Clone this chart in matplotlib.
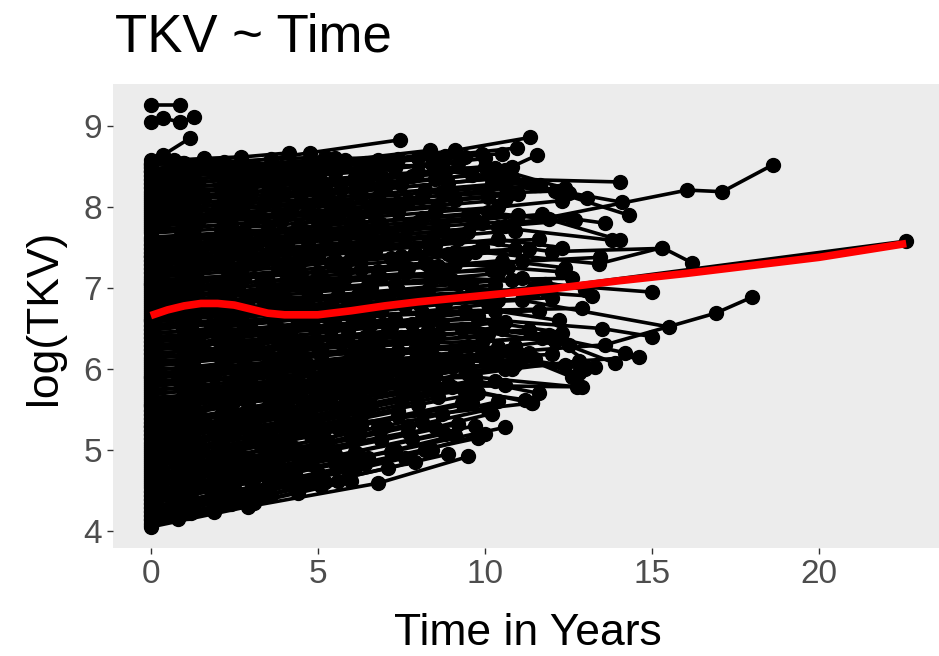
import matplotlib
matplotlib.use('Agg')
import matplotlib.pyplot as plt

# each subject: (time in years, log(TKV))
band_low = [
    ([0, 2.9, 6.8, 9.5], [4.05, 4.3, 4.59, 4.92]),
    ([0, 1.2, 3.0, 5.1], [4.1, 4.22, 4.35, 4.55]),
    ([0, 2.1, 4.3, 7.9], [4.15, 4.32, 4.52, 4.85]),
    ([0, 3.4, 5.6], [4.2, 4.45, 4.62]),
    ([0, 1.0, 2.2, 4.0, 6.1, 8.4], [4.25, 4.33, 4.42, 4.6, 4.78, 5.0]),
    ([0, 2.5, 5.0, 9.8], [4.3, 4.5, 4.72, 5.15]),
    ([0, 1.9, 3.8, 6.5], [4.35, 4.5, 4.68, 4.9]),
    ([0, 3.1, 7.2, 10.6], [4.4, 4.65, 4.98, 5.28]),
    ([0, 1.5, 4.6, 8.8], [4.45, 4.58, 4.85, 5.2]),
    ([0, 2.8, 5.5], [4.5, 4.72, 4.95]),
    ([0, 1.1, 3.6, 6.9, 9.2], [4.55, 4.65, 4.85, 5.12, 5.32]),
    ([0, 2.3, 4.9, 7.7], [4.6, 4.78, 5.0, 5.22]),
    ([0, 3.0, 6.2, 10.1], [4.65, 4.88, 5.15, 5.5]),
    ([0, 1.7, 5.3, 8.1], [4.7, 4.82, 5.1, 5.35]),
    ([0, 2.6, 4.1, 7.0], [4.75, 4.95, 5.05, 5.3]),
    ([0, 1.3, 3.3, 6.0, 9.6], [4.8, 4.9, 5.05, 5.28, 5.58]),
    ([0, 2.0, 5.8, 11.4], [4.85, 5.0, 5.32, 5.58]),
    ([0, 3.5, 7.4], [4.9, 5.15, 5.48]),
    ([0, 1.4, 4.4, 8.6], [4.95, 5.05, 5.3, 5.65]),
    ([0, 2.2, 6.6, 10.3], [5.0, 5.18, 5.55, 5.85]),
    ([0, 1.0, 3.9, 5.7, 9.0], [5.05, 5.12, 5.35, 5.5, 5.78]),
    ([0, 2.7, 6.3], [5.1, 5.3, 5.6]),
    ([0, 1.8, 4.8, 8.3, 12.9], [5.15, 5.28, 5.52, 5.8, 5.78]),
    ([0, 3.2, 7.5, 10.9], [5.2, 5.45, 5.8, 6.05]),
    ([0, 1.6, 5.2, 9.4], [5.25, 5.38, 5.65, 6.0]),
    ([0, 2.4, 4.5, 7.9], [5.3, 5.48, 5.65, 5.92]),
    ([0, 1.2, 3.7, 6.8, 11.0], [5.35, 5.45, 5.65, 5.9, 6.2]),
    ([0, 2.9, 5.9, 9.9], [5.4, 5.62, 5.85, 6.18]),
    ([0, 0.9, 4.2, 8.0], [5.45, 5.52, 5.78, 6.08]),
    ([0, 3.0, 6.9, 10.8, 12.8, 14.6], [5.3, 5.5, 5.78, 6.0, 6.1, 6.15]),
]

band_low_b = [
    ([0, 0.8, 1.9, 3.1, 4.4, 6.0], [4.08, 4.15, 4.24, 4.35, 4.47, 4.62]),
    ([0, 1.1, 2.4, 3.6, 5.2, 7.1, 8.9], [4.13, 4.22, 4.33, 4.45, 4.6, 4.78, 4.95]),
    ([0, 0.9, 2.0, 3.3, 4.7], [4.18, 4.26, 4.36, 4.48, 4.6]),
    ([0, 1.3, 2.7, 4.1, 5.9, 7.6], [4.23, 4.33, 4.46, 4.58, 4.74, 4.9]),
    ([0, 1.0, 2.2, 3.5, 5.0, 6.4, 8.2, 10.0], [4.28, 4.36, 4.46, 4.57, 4.7, 4.83, 5.0, 5.2]),
    ([0, 0.7, 1.8, 3.0, 4.3, 5.8], [4.33, 4.4, 4.5, 4.6, 4.72, 4.86]),
    ([0, 1.2, 2.5, 3.9, 5.5, 7.3, 9.1], [4.38, 4.47, 4.58, 4.7, 4.84, 5.0, 5.18]),
    ([0, 1.0, 2.1, 3.4, 4.8, 6.2], [4.43, 4.51, 4.6, 4.71, 4.83, 4.95]),
    ([0, 1.4, 2.9, 4.5, 6.1, 7.8, 9.7], [4.48, 4.59, 4.71, 4.84, 4.98, 5.13, 5.3]),
    ([0, 0.8, 1.9, 3.2, 4.6], [4.53, 4.6, 4.69, 4.8, 4.91]),
    ([0, 1.1, 2.4, 3.8, 5.3, 6.9, 8.5, 10.2], [4.58, 4.67, 4.77, 4.88, 5.0, 5.14, 5.28, 5.45]),
    ([0, 0.9, 2.2, 3.6, 5.1], [4.63, 4.7, 4.8, 4.92, 5.04]),
    ([0, 1.3, 2.8, 4.3, 6.0, 7.7], [4.68, 4.78, 4.9, 5.02, 5.16, 5.3]),
    ([0, 1.0, 2.3, 3.7, 5.2, 6.8, 8.7, 10.4], [4.73, 4.81, 4.91, 5.02, 5.14, 5.28, 5.44, 5.6]),
    ([0, 0.8, 2.0, 3.3, 4.8, 6.3], [4.78, 4.85, 4.94, 5.05, 5.17, 5.3]),
    ([0, 1.2, 2.6, 4.0, 5.6, 7.4, 9.3], [4.83, 4.92, 5.03, 5.14, 5.27, 5.42, 5.58]),
    ([0, 1.0, 2.1, 3.5, 5.0], [4.88, 4.96, 5.05, 5.16, 5.28]),
    ([0, 1.5, 3.0, 4.6, 6.3, 8.0, 9.8, 11.2], [4.93, 5.04, 5.16, 5.28, 5.42, 5.56, 5.7, 5.62]),
    ([0, 0.9, 2.0, 3.4, 4.9, 6.5], [4.98, 5.05, 5.14, 5.25, 5.37, 5.5]),
    ([0, 1.1, 2.5, 4.0, 5.7, 7.5, 9.4], [5.03, 5.11, 5.22, 5.33, 5.46, 5.6, 5.75]),
    ([0, 0.8, 1.9, 3.1, 4.5, 6.0], [5.08, 5.14, 5.23, 5.33, 5.44, 5.56]),
    ([0, 1.3, 2.7, 4.3, 6.0, 7.8, 9.7, 11.6], [5.13, 5.22, 5.33, 5.45, 5.58, 5.72, 5.86, 5.7]),
    ([0, 1.0, 2.3, 3.8, 5.4], [5.18, 5.25, 5.35, 5.46, 5.58]),
    ([0, 1.2, 2.6, 4.1, 5.8, 7.6, 9.5], [5.23, 5.31, 5.41, 5.52, 5.65, 5.79, 5.94]),
    ([0, 0.9, 2.1, 3.5, 5.0, 6.7, 8.5], [5.28, 5.34, 5.43, 5.53, 5.65, 5.78, 5.92]),
    ([0, 1.4, 2.9, 4.5, 6.2, 8.1, 10.1], [5.33, 5.42, 5.52, 5.63, 5.76, 5.9, 6.05]),
    ([0, 1.0, 2.2, 3.6, 5.1, 6.8], [5.38, 5.45, 5.53, 5.63, 5.74, 5.86]),
    ([0, 1.1, 2.5, 4.0, 5.7, 7.5, 9.4, 11.3], [5.43, 5.5, 5.6, 5.7, 5.82, 5.95, 6.08, 6.2]),
    ([0, 0.8, 2.0, 3.3, 4.8], [5.48, 5.54, 5.62, 5.71, 5.82]),
]

band_mid_low = [
    ([0, 2.2, 5.4, 8.7, 11.9, 14.2], [6.4, 6.45, 6.5, 6.56, 6.4, 6.2]),
    ([0, 1.0, 3.8, 7.2, 10.6], [6.35, 6.4, 6.46, 6.52, 6.58]),
    ([0, 2.5, 5.9, 9.3, 12.5], [6.3, 6.35, 6.42, 6.5, 6.3]),
    ([0, 1.5, 4.5, 7.9, 11.3, 13.9], [6.25, 6.3, 6.36, 6.42, 6.48, 6.07]),
    ([0, 3.2, 6.6, 10.0], [6.2, 6.26, 6.32, 6.4]),
    ([0, 1.7, 5.0, 8.4, 11.7], [6.15, 6.2, 6.26, 6.32, 6.38]),
    ([0, 2.8, 6.1, 9.5, 12.8], [6.1, 6.15, 6.22, 6.28, 5.95]),
    ([0, 1.2, 4.0, 7.4, 10.9], [6.05, 6.1, 6.15, 6.22, 6.28]),
    ([0, 3.5, 6.9, 10.3, 13.0], [6.0, 6.06, 6.12, 6.18, 6.0]),
    ([0, 2.0, 5.2, 8.6, 12.0], [5.95, 6.0, 6.06, 6.12, 6.18]),
    ([0, 1.4, 4.4, 7.7, 11.1], [5.9, 5.95, 6.0, 6.06, 6.12]),
    ([0, 2.6, 5.7, 9.0, 12.4], [5.85, 5.9, 5.95, 6.02, 6.05]),
    ([0, 1.1, 3.7, 7.0, 10.6], [5.8, 5.85, 5.9, 5.95, 6.0]),
    ([0, 3.0, 6.3, 9.7, 12.75], [5.75, 5.8, 5.86, 5.9, 5.78]),
    ([0, 1.9, 4.9, 8.2, 11.4], [5.7, 5.75, 5.8, 5.86, 5.58]),
    ([0, 2.4, 5.5, 8.9], [5.65, 5.7, 5.76, 5.82]),
    ([0, 1.3, 4.2, 7.5, 10.6], [5.6, 5.65, 5.7, 5.76, 5.8]),
    ([0, 2.9, 6.0, 9.4], [5.55, 5.6, 5.66, 5.72]),
    ([0, 2.1, 5.4, 9.1, 12.1], [5.5, 5.65, 5.92, 6.2, 6.35]),
    ([0, 1.5, 3.6, 7.1], [5.55, 5.66, 5.82, 6.1]),
]

band_mid_low_b = [
    ([0, 1.2, 2.6, 4.1, 5.8, 7.6, 9.5, 11.5], [5.53, 5.59, 5.66, 5.74, 5.83, 5.93, 6.03, 6.12]),
    ([0, 0.9, 2.1, 3.5, 5.0, 6.7], [5.58, 5.63, 5.69, 5.76, 5.84, 5.93]),
    ([0, 1.3, 2.8, 4.4, 6.1, 8.0, 10.0], [5.63, 5.69, 5.76, 5.84, 5.93, 6.03, 6.13]),
    ([0, 1.0, 2.3, 3.7, 5.3, 7.0, 8.8, 10.7, 12.6], [5.68, 5.73, 5.79, 5.86, 5.94, 6.03, 6.12, 6.22, 5.9]),
    ([0, 1.1, 2.4, 3.9, 5.5, 7.2], [5.73, 5.78, 5.84, 5.91, 5.99, 6.07]),
    ([0, 1.4, 3.0, 4.7, 6.5, 8.4, 10.4], [5.78, 5.84, 5.91, 5.99, 6.08, 6.17, 6.27]),
    ([0, 0.8, 1.9, 3.2, 4.7, 6.3, 8.0], [5.83, 5.87, 5.92, 5.98, 6.05, 6.13, 6.21]),
    ([0, 1.2, 2.7, 4.3, 6.0, 7.9, 9.9, 11.9, 13.3], [5.88, 5.93, 6.0, 6.07, 6.15, 6.24, 6.33, 6.42, 6.02]),
    ([0, 1.0, 2.2, 3.6, 5.1, 6.8], [5.93, 5.97, 6.03, 6.09, 6.16, 6.24]),
    ([0, 1.3, 2.8, 4.4, 6.2, 8.1, 10.1], [5.98, 6.03, 6.1, 6.17, 6.25, 6.34, 6.43]),
    ([0, 0.9, 2.1, 3.5, 5.1, 6.8, 8.6, 10.5], [6.03, 6.07, 6.12, 6.18, 6.25, 6.33, 6.41, 6.5]),
    ([0, 1.1, 2.5, 4.0, 5.7, 7.5], [6.08, 6.12, 6.18, 6.25, 6.32, 6.4]),
    ([0, 1.4, 2.9, 4.6, 6.4, 8.3, 10.3, 12.3], [6.13, 6.18, 6.25, 6.32, 6.4, 6.48, 6.57, 6.45]),
    ([0, 1.0, 2.3, 3.8, 5.4, 7.1], [6.18, 6.22, 6.27, 6.33, 6.4, 6.47]),
    ([0, 1.2, 2.6, 4.2, 5.9, 7.8, 9.8], [6.23, 6.28, 6.34, 6.41, 6.48, 6.56, 6.65]),
    ([0, 0.8, 2.0, 3.4, 4.9, 6.6, 8.4, 10.3, 12.2], [6.28, 6.31, 6.36, 6.42, 6.49, 6.56, 6.64, 6.72, 6.6]),
    ([0, 1.1, 2.4, 3.9, 5.5, 7.3], [6.33, 6.37, 6.42, 6.48, 6.55, 6.62]),
    ([0, 1.3, 2.8, 4.4, 6.2, 8.1, 10.1], [6.38, 6.43, 6.49, 6.56, 6.63, 6.71, 6.8]),
    ([0, 1.0, 2.2, 3.7, 5.2, 6.9, 8.7], [6.43, 6.47, 6.52, 6.58, 6.65, 6.72, 6.8]),
    ([0, 1.2, 2.7, 4.3, 6.1, 8.0, 10.0, 11.8], [6.48, 6.53, 6.59, 6.66, 6.73, 6.81, 6.9, 6.98]),
]

band_mid = [
    ([0, 2.6, 5.8, 9.1, 12.3], [7.1, 7.15, 7.22, 7.3, 7.2]),
    ([0, 1.4, 4.3, 7.7, 10.5], [7.05, 7.1, 7.18, 7.25, 7.3]),
    ([0, 3.3, 6.8, 10.2], [7.0, 7.08, 7.15, 7.22]),
    ([0, 1.9, 5.1, 8.5, 11.8, 15.0], [6.95, 7.0, 7.08, 7.15, 7.05, 6.95]),
    ([0, 2.4, 5.6, 9.0, 12.6], [6.9, 6.95, 7.02, 7.1, 7.12]),
    ([0, 1.1, 3.9, 7.3, 10.8], [6.85, 6.9, 6.98, 7.05, 7.1]),
    ([0, 2.9, 6.2, 9.6, 13.2], [6.8, 6.86, 6.92, 7.0, 6.9]),
    ([0, 1.6, 4.7, 8.2, 11.4], [6.75, 6.8, 6.86, 6.92, 6.98]),
    ([0, 3.6, 7.0, 10.4], [6.7, 6.75, 6.8, 6.85]),
    ([0, 2.1, 5.3, 8.8, 12.0], [6.65, 6.7, 6.76, 6.82, 6.88]),
    ([0, 1.3, 4.1, 7.6, 11.1, 15.5], [6.6, 6.64, 6.7, 6.78, 6.85, 6.52]),
    ([0, 2.7, 6.0, 9.4, 12.9], [6.55, 6.6, 6.66, 6.72, 6.75]),
    ([0, 1.8, 4.8, 8.1, 11.6], [6.5, 6.55, 6.62, 6.68, 6.72]),
    ([0, 3.0, 6.5, 9.8, 13.5, 15.0], [6.45, 6.5, 6.55, 6.62, 6.5, 6.4]),
]

band_mid_b = [
    ([0, 0.9, 2.1, 3.6, 5.2, 6.9, 8.7], [6.53, 6.56, 6.61, 6.67, 6.73, 6.8, 6.87]),
    ([0, 1.2, 2.6, 4.2, 5.9, 7.8, 9.8, 11.7], [6.58, 6.62, 6.67, 6.73, 6.79, 6.86, 6.94, 7.02]),
    ([0, 1.0, 2.3, 3.8, 5.4, 7.1], [6.63, 6.66, 6.71, 6.76, 6.82, 6.88]),
    ([0, 1.3, 2.9, 4.6, 6.4, 8.3, 10.3], [6.68, 6.72, 6.77, 6.83, 6.9, 6.97, 7.04]),
    ([0, 1.1, 2.4, 3.9, 5.6, 7.4, 9.2, 11.1, 13.0], [6.73, 6.76, 6.81, 6.86, 6.92, 6.98, 7.05, 7.12, 6.98]),
    ([0, 0.8, 1.9, 3.3, 4.9, 6.6], [6.78, 6.8, 6.84, 6.89, 6.95, 7.01]),
    ([0, 1.4, 3.0, 4.7, 6.5, 8.4, 10.4], [6.83, 6.87, 6.92, 6.98, 7.04, 7.11, 7.18]),
    ([0, 1.0, 2.2, 3.6, 5.2, 6.9, 8.8, 10.7], [6.88, 6.91, 6.95, 7.0, 7.06, 7.12, 7.19, 7.26]),
    ([0, 1.2, 2.6, 4.1, 5.8, 7.6], [6.93, 6.96, 7.01, 7.06, 7.12, 7.18]),
    ([0, 0.9, 2.1, 3.5, 5.1, 6.8, 8.6, 10.5, 12.4], [6.98, 7.0, 7.04, 7.09, 7.15, 7.21, 7.27, 7.34, 7.25]),
    ([0, 1.3, 2.8, 4.5, 6.3, 8.2], [7.03, 7.07, 7.12, 7.18, 7.24, 7.31]),
    ([0, 1.1, 2.5, 4.0, 5.7, 7.5, 9.4, 11.3], [7.08, 7.11, 7.16, 7.21, 7.27, 7.34, 7.41, 7.48]),
    ([0, 1.0, 2.3, 3.8, 5.4, 7.2, 9.1], [7.13, 7.16, 7.2, 7.25, 7.31, 7.37, 7.44]),
]

band_high = [
    ([0, 2.5, 5.6, 9.0, 12.2, 14.1], [7.9, 7.98, 8.05, 8.15, 8.2, 8.06]),
    ([0, 1.8, 4.7, 8.1, 11.5, 14.3], [7.85, 7.9, 8.0, 8.12, 8.27, 7.9]),
    ([0, 3.2, 6.7, 10.1], [7.8, 7.88, 8.0, 8.12]),
    ([0, 1.1, 3.9, 7.4, 10.7], [7.75, 7.8, 7.9, 8.05, 8.15]),
    ([0, 2.2, 5.3, 8.6, 11.9, 14.05], [7.7, 7.78, 7.88, 8.0, 7.85, 7.59]),
    ([0, 2.4, 5.0, 8.3, 11.1, 13.45], [7.05, 7.12, 7.2, 7.28, 7.33, 7.38]),
    ([0, 2.7, 6.0, 9.5], [7.6, 7.68, 7.8, 7.9]),
    ([0, 1.3, 4.6, 8.0, 11.0], [7.55, 7.6, 7.7, 7.82, 7.9]),
    ([0, 3.4, 6.5, 9.9, 12.6], [7.5, 7.6, 7.7, 7.8, 7.85]),
    ([0, 2.0, 5.2, 8.7], [7.45, 7.5, 7.62, 7.75]),
    ([0, 1.0, 3.6, 7.1, 10.4, 13.8], [7.4, 7.45, 7.55, 7.65, 7.75, 7.59]),
    ([0, 2.8, 5.9, 9.2, 12.0, 15.3], [7.35, 7.42, 7.5, 7.6, 7.45, 7.49]),
    ([0, 1.7, 4.9, 8.4, 11.6], [7.3, 7.35, 7.45, 7.55, 7.6]),
    ([0, 3.1, 6.3, 9.7, 13.4, 15.3, 16.2], [7.25, 7.3, 7.38, 7.45, 7.3, 7.5, 7.31]),
    ([0, 2.3, 5.5, 8.9], [7.2, 7.28, 7.35, 7.42]),
    ([0, 1.2, 4.0, 7.5, 10.9], [7.15, 7.2, 7.3, 7.4, 7.48]),
]

band_high_b = [
    ([0, 1.2, 2.7, 4.3, 6.0, 7.9, 9.9], [7.18, 7.21, 7.26, 7.31, 7.37, 7.44, 7.51]),
    ([0, 0.9, 2.0, 3.4, 5.0, 6.7, 8.5, 10.4, 12.3], [7.23, 7.25, 7.29, 7.34, 7.4, 7.46, 7.53, 7.6, 7.5]),
    ([0, 1.3, 2.9, 4.6, 6.4, 8.3], [7.28, 7.31, 7.36, 7.42, 7.48, 7.55]),
    ([0, 1.0, 2.3, 3.7, 5.3, 7.0, 8.9, 10.9], [7.33, 7.36, 7.4, 7.45, 7.51, 7.57, 7.64, 7.71]),
    ([0, 1.1, 2.5, 4.1, 5.8, 7.6, 9.5], [7.38, 7.41, 7.45, 7.5, 7.56, 7.62, 7.69]),
    ([0, 1.4, 3.0, 4.7, 6.6, 8.6, 10.6, 12.7], [7.43, 7.46, 7.51, 7.57, 7.63, 7.7, 7.77, 7.84]),
    ([0, 0.8, 1.9, 3.2, 4.7, 6.3], [7.48, 7.5, 7.53, 7.57, 7.62, 7.68]),
    ([0, 1.2, 2.6, 4.2, 5.9, 7.7, 9.7, 11.7, 13.6], [7.53, 7.56, 7.6, 7.65, 7.71, 7.77, 7.84, 7.91, 7.8]),
    ([0, 1.0, 2.2, 3.6, 5.2, 6.9], [7.58, 7.6, 7.64, 7.68, 7.73, 7.79]),
    ([0, 1.3, 2.8, 4.4, 6.2, 8.1, 10.1], [7.63, 7.66, 7.7, 7.75, 7.81, 7.87, 7.94]),
    ([0, 0.9, 2.1, 3.5, 5.0, 6.7, 8.5, 10.4, 12.3], [7.68, 7.7, 7.73, 7.77, 7.82, 7.88, 7.94, 8.0, 8.08]),
    ([0, 1.1, 2.4, 3.9, 5.6, 7.4], [7.73, 7.75, 7.79, 7.83, 7.88, 7.94]),
    ([0, 1.4, 3.0, 4.8, 6.6, 8.6, 10.6], [7.78, 7.81, 7.85, 7.9, 7.96, 8.02, 8.09]),
    ([0, 1.0, 2.3, 3.8, 5.4, 7.2, 9.1, 11.0], [7.83, 7.85, 7.88, 7.92, 7.97, 8.03, 8.09, 8.16]),
    ([0, 1.2, 2.6, 4.2, 5.9, 7.7], [7.88, 7.9, 7.94, 7.98, 8.03, 8.08]),
    ([0, 0.8, 2.0, 3.4, 5.0, 6.8, 8.7, 10.6, 12.5], [7.93, 7.95, 7.98, 8.02, 8.07, 8.13, 8.19, 8.26, 8.18]),
]

band_top = [
    ([0, 4.15], [8.52, 8.67]),
    ([0, 1.9, 4.75, 7.45], [8.45, 8.5, 8.67, 8.83]),
    ([0, 2.6, 5.8, 8.35], [8.4, 8.48, 8.58, 8.7]),
    ([0, 3.3, 6.4, 9.1, 11.35], [8.35, 8.45, 8.55, 8.7, 8.86]),
    ([0, 2.2, 5.1, 8.0, 10.95], [8.3, 8.38, 8.48, 8.6, 8.73]),
    ([0, 1.4, 4.0, 7.2, 10.6, 11.55], [8.25, 8.3, 8.42, 8.52, 8.46, 8.64]),
    ([0, 3.0, 6.6, 10.0], [8.2, 8.32, 8.45, 8.6]),
    ([0, 1.0, 2.8, 5.5, 9.4], [8.55, 8.5, 8.52, 8.6, 8.62]),
    ([0, 0.36, 1.17], [8.5, 8.64, 8.85]),
    ([0, 2.4, 4.9, 8.8, 11.65], [8.15, 8.22, 8.3, 8.45, 8.27]),
    ([0, 3.7, 7.0, 10.3, 12.4], [8.1, 8.2, 8.35, 8.48, 8.23]),
    ([0, 1.6, 4.4, 7.8, 10.8], [8.05, 8.12, 8.25, 8.38, 8.5]),
    ([0, 2.9, 6.1, 9.6, 13.05], [8.0, 8.1, 8.22, 8.4, 8.11]),
    ([0, 1.2, 3.5, 6.9, 10.2, 14.05], [7.95, 8.0, 8.1, 8.22, 8.35, 8.31]),
]

band_top_b = [
    ([0, 1.3, 2.8, 4.5, 6.3, 8.2, 10.2], [7.98, 8.0, 8.04, 8.09, 8.15, 8.21, 8.28]),
    ([0, 1.0, 2.2, 3.7, 5.3, 7.0, 8.9, 10.8], [8.03, 8.05, 8.08, 8.12, 8.17, 8.23, 8.3, 8.37]),
    ([0, 1.1, 2.5, 4.0, 5.7, 7.5], [8.08, 8.1, 8.13, 8.17, 8.22, 8.28]),
    ([0, 1.4, 3.0, 4.7, 6.5, 8.5, 10.5, 12.1], [8.13, 8.15, 8.19, 8.24, 8.29, 8.35, 8.42, 8.2]),
    ([0, 0.9, 2.1, 3.5, 5.1, 6.9, 8.8], [8.18, 8.2, 8.23, 8.27, 8.32, 8.38, 8.44]),
    ([0, 1.2, 2.7, 4.3, 6.1, 8.0, 10.0], [8.23, 8.25, 8.28, 8.32, 8.37, 8.43, 8.5]),
    ([0, 1.0, 2.3, 3.8, 5.5, 7.3, 9.2], [8.28, 8.3, 8.33, 8.37, 8.42, 8.48, 8.55]),
    ([0, 1.3, 2.9, 4.6, 6.4, 8.4], [8.33, 8.35, 8.38, 8.42, 8.47, 8.53]),
    ([0, 0.8, 1.9, 3.3, 4.9, 6.7, 8.6, 10.5], [8.38, 8.4, 8.42, 8.46, 8.5, 8.55, 8.6, 8.66]),
    ([0, 1.1, 2.4, 3.9, 5.6, 7.4], [8.43, 8.44, 8.47, 8.5, 8.54, 8.59]),
    ([0, 1.4, 3.1, 4.9, 6.8, 8.8, 9.9], [8.48, 8.49, 8.51, 8.54, 8.58, 8.63, 8.66]),
    ([0, 1.0, 2.2, 3.6, 5.2], [8.53, 8.54, 8.56, 8.59, 8.62]),
    ([0, 0.7, 1.6, 2.7], [8.58, 8.58, 8.6, 8.62]),
]

long_followup = [
    ([0, 3.8, 7.2, 10.8, 16.05, 17.1, 18.6], [7.4, 7.55, 7.65, 7.78, 8.21, 8.19, 8.52]),
    ([0, 3.6, 7.0, 10.4, 13.6, 16.9, 18.0], [5.9, 6.0, 6.1, 6.2, 6.3, 6.69, 6.89]),
    ([0, 2.0, 4.1, 6.2, 8.0, 11.5, 22.6], [6.6, 6.7, 6.75, 6.8, 6.9, 6.98, 7.58]),
    ([0, 0.87], [9.26, 9.26]),
    ([0, 0.36, 0.87, 1.3], [9.05, 9.1, 9.05, 9.11]),
    ([0, 0.96], [8.45, 8.55]),
]

# red smoother
smooth_t = [0, 0.5, 1, 1.5, 2, 2.5, 3, 3.5, 4, 5, 6, 7, 8, 9, 10, 12, 14, 16, 18, 20, 22.6]
smooth_y = [6.66, 6.73, 6.78, 6.81, 6.81, 6.79, 6.74, 6.69, 6.67, 6.67, 6.72, 6.78,
            6.83, 6.87, 6.91, 6.99, 7.09, 7.18, 7.28, 7.38, 7.55]

x_ticks = [0, 5, 10, 15, 20]
y_ticks = [4, 5, 6, 7, 8, 9]

plt.rcParams['font.family'] = ['Liberation Sans', 'DejaVu Sans']

fig = plt.figure(figsize=(9.39, 6.56), dpi=100)
ax = fig.add_axes([113 / 939, 1 - 548 / 656, 831 / 939, 464 / 656])
ax.set_facecolor('#ececec')

groups = [band_low, band_low_b, band_mid_low, band_mid_low_b, band_mid, band_mid_b,
          band_high, band_high_b, band_top, band_top_b, long_followup]
for group in groups:
    for t, v in group:
        ax.plot(t, v, color='black', lw=2.6, marker='o', ms=10, zorder=2)

ax.plot(smooth_t, smooth_y, color='red', lw=5.5, zorder=3, solid_capstyle='butt')

ax.set_xlim(-1.13, 23.73)
ax.set_ylim(3.79, 9.52)
ax.set_xticks(x_ticks)
ax.set_yticks(y_ticks)
for s in ax.spines.values():
    s.set_visible(False)
ax.tick_params(length=4, width=1, color='#333333',
               labelsize=24, labelcolor='#4d4d4d', pad=4)

fig.text(115 / 939, 1 - 52 / 656, 'TKV ~ Time', fontsize=38, va='baseline', ha='left')
fig.text(528 / 939, 1 - 645 / 656, 'Time in Years', fontsize=32, va='baseline', ha='center')
fig.text(45 / 939, 1 - 317 / 656, 'log(TKV)', fontsize=32, va='center', ha='center',
         rotation=90)

fig.savefig('out.png', dpi=100)
